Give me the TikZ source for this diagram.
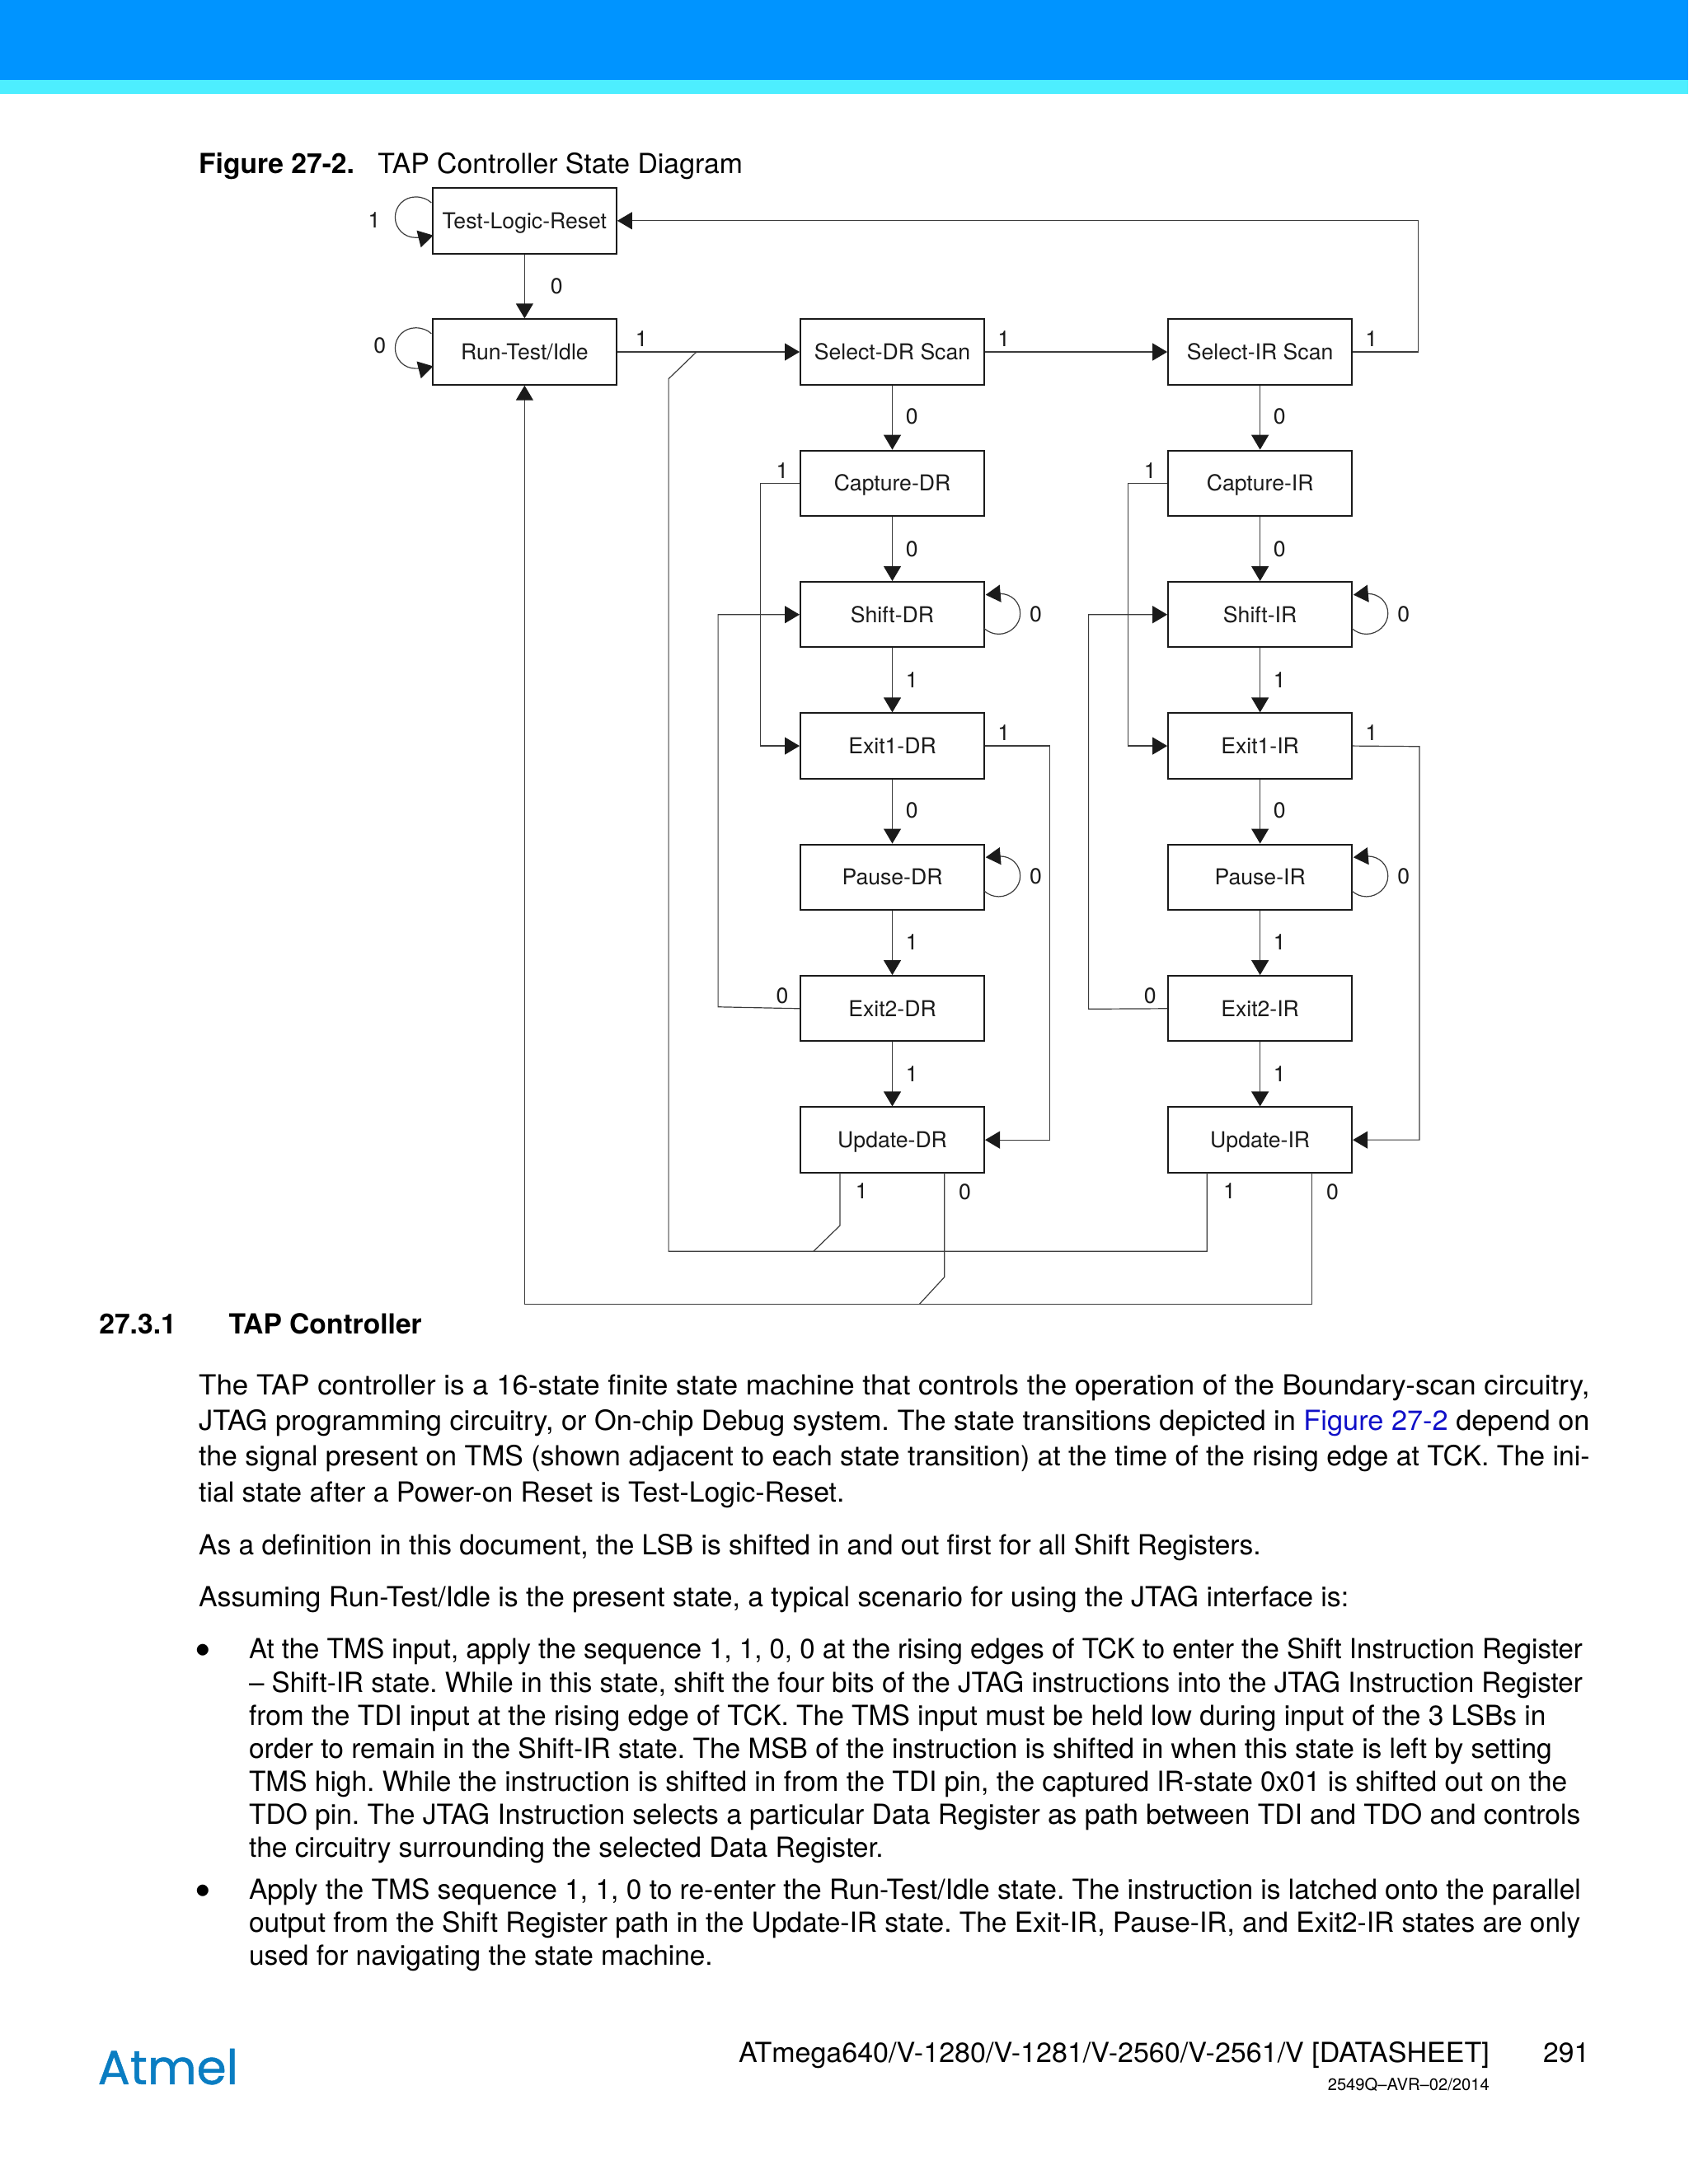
\documentclass[tikz,border=0pt]{standalone}
\usepackage{graphicx}
\usepackage{fontspec}
\setmainfont{TeX Gyre Heros}
\newfontfamily\logofont[FakeBold=0.9]{Poppins}
\usetikzlibrary{arrows.meta}
\definecolor{hdrblue}{HTML}{0094FF}
\definecolor{hdrcyan}{HTML}{4DEEFF}
\definecolor{linkblue}{HTML}{1010C8}
\definecolor{logoblue}{HTML}{0A7DC2}
\definecolor{ink}{HTML}{1A1A1A}
\setlength{\unitlength}{0.8449pt}
\newcommand{\fl}[4]{\node[bodyline] (#1) at #2 {\resizebox{#3\unitlength}{\height}{#4}};}
\tikzset{
  x=0.8449pt,y=-0.8449pt,
  state/.style={draw=ink,line width=1pt,minimum width=111.5pt,minimum height=39.7pt,inner sep=0pt,text height=9.6pt,text depth=0pt,font=\fontsize{13.3pt}{14pt}\selectfont,text=ink},
  conn/.style={draw=ink!85,line width=0.6pt},
  arr/.style={conn,-{Triangle[length=9pt,width=10.5pt,fill=ink,color=ink]}},
  lab/.style={inner sep=0pt,font=\fontsize{13.3pt}{14pt}\selectfont,text=ink},
  bodyline/.style={anchor=base west,inner sep=0pt,font=\fontsize{16.8pt}{20pt}\selectfont\frenchspacing,text=black},
  bulletmark/.style={anchor=base,inner sep=0pt,font=\fontsize{28pt}{30pt}\selectfont,text=black},
  headline/.style={bodyline,font=\fontsize{16.8pt}{20pt}\selectfont\bfseries},
}
\begin{document}
\begin{tikzpicture}
\useasboundingbox (0,0) rectangle (1212,1568.2);
\fill[hdrblue] (0,0) rectangle (1212,57.5);
\fill[hdrcyan] (0,57.5) rectangle (1212,67.6);
% caption
\node[bodyline] (figcap) at (142.5,124.6) {\textbf{Figure 27-2.}};
\fl{figtitle}{(271,124.6)}{262}{TAP Controller State Diagram}
% states
\node[state] (tlr) at (376.6,158.5) {Test-Logic-Reset};
\node[state] (rti) at (376.6,252.7) {Run-Test/Idle};
\node[state] (sdr) at (640.6,252.7) {Select-DR Scan};
\node[state] (sir) at (904.6,252.7) {Select-IR Scan};
\node[state] (cdr) at (640.6,347) {Capture-DR};
\node[state] (cir) at (904.6,347) {Capture-IR};
\node[state] (shd) at (640.6,441.3) {Shift-DR};
\node[state] (shi) at (904.6,441.3) {Shift-IR};
\node[state] (e1d) at (640.6,535.6) {Exit1-DR};
\node[state] (e1i) at (904.6,535.6) {Exit1-IR};
\node[state] (pd) at (640.6,629.8) {Pause-DR};
\node[state] (pir) at (904.6,629.8) {Pause-IR};
\node[state] (e2d) at (640.6,724.2) {Exit2-DR};
\node[state] (e2i) at (904.6,724.2) {Exit2-IR};
\node[state] (ud) at (640.6,818.5) {Update-DR};
\node[state] (ui) at (904.6,818.5) {Update-IR};
% straight connectors
\draw[arr] (tlr) -- (rti);
\draw[arr] (rti) -- (sdr);
\draw[arr] (sdr) -- (sir);
\foreach \a/\b in {sdr/cdr,cdr/shd,shd/e1d,e1d/pd,pd/e2d,e2d/ud,sir/cir,cir/shi,shi/e1i,e1i/pir,pir/e2i,e2i/ui}{\draw[arr] (\a) -- (\b);}
\draw[arr] (sir.east) -- (1018,252.7) -- (1018,158.5) -- (tlr.east);
% DR / IR side routes
\draw[arr] (cdr.west) -- (546,347) -- (546,535.6) -- (e1d.west);
\draw[arr] (cir.west) -- (810,347) -- (810,535.6) -- (e1i.west);
\draw[arr] (e2d.west) -- (515.5,723) -- (515.5,441.3) -- (shd.west);
\draw[arr] (e2i.west) -- (781.5,724.5) -- (781.5,441.3) -- (shi.west);
\draw[arr] (e1d.east) -- (753.5,535.6) -- (753.5,818.5) -- (ud.east);
\draw[arr] (e1i.east) -- (1019,536) -- (1019,818.5) -- (ui.east);
% long returns
\coordinate (ud1) at (603,842);
\coordinate (ud0) at (678,842);
\coordinate (ui1) at (866.5,842);
\coordinate (ui0) at (942,842);
\draw[conn] (ui1) -- (866.5,898.5) -- (480,898.5) -- (480,272) -- (500,252.7);
\draw[conn] (ud1) -- (603,880) -- (584,898.5);
\draw[arr] (ui0) -- (942,936.5) -- (376.6,936.5) -- (rti.south);
\draw[conn] (ud0) -- (678,917) -- (660,936.5);
% self loops
\foreach \yy in {0,94}{
\draw[arr] (309.7,145.6+\yy) .. controls (307,143+\yy) and (303,141.4+\yy) .. (298.4,141.4+\yy) .. controls (290,141.4+\yy) and (283.7,148+\yy) .. (283.7,156+\yy) .. controls (283.7,164+\yy) and (290,170.6+\yy) .. (298.4,170.6+\yy) .. controls (303,170.6+\yy) and (307,170+\yy) .. (311,169+\yy);}
\foreach \yy in {441.3,629.8}{
\foreach \xx in {0,264}{
\draw[arr] (706.6+\xx,\yy+10) .. controls (709.5+\xx,\yy+12.5) and (713+\xx,\yy+14) .. (717+\xx,\yy+14) .. controls (725+\xx,\yy+14) and (732.4+\xx,\yy+7.5) .. (732.4+\xx,\yy-.8) .. controls (732.4+\xx,\yy-9) and (726+\xx,\yy-15) .. (718+\xx,\yy-15) .. controls (714+\xx,\yy-15) and (711+\xx,\yy-14.5) .. (707.6+\xx,\yy-14.2);}}
% edge labels
\foreach \nn/\tt/\px/\py in {a/1/268.6/158,b/0/399.6/205.3,c/0/272.6/248,d/1/460.6/243,e/1/720.6/243,f/1/984.6/243,g/0/654.6/299.3,h/0/918.6/299.3,i/1/561.6/338,j/1/825.6/338,k/0/654.6/394.3,l/0/918.6/394.3,m/0/743.6/441,n/0/1007.6/441,o/1/654.6/488,p/1/918.6/488,q/1/720.6/526,r/1/984.6/526,s/0/654.6/582,t/0/918.6/582,u/0/743.6/629.3,v/0/1007.6/629.3,w/1/654.6/676.3,x/1/918.6/676.3,y/0/561.6/715,z/0/825.6/715,A/1/654.6/771,B/1/918.6/771,C/1/618.6/855,D/1/882.6/855,E/0/692.6/856,F/0/956.6/856}{
\node[lab] (l\nn) at (\px,\py) {\tt};}
% section heading
\node[headline] (secno) at (71,958) {27.3.1};
\node[headline] (sectitle) at (164,958) {TAP Controller};
% body
\fl{p1}{(142.5,1001.3)}{998.5}{The TAP controller is a 16-state finite state machine that controls the operation of the Boundary-scan circuitry,}
\fl{p2}{(142.5,1027)}{998.5}{JTAG programming circuitry, or On-chip Debug system. The state transitions depicted in \textcolor{linkblue}{Figure 27-2} depend on}
\fl{p3}{(142.5,1052.6)}{998.5}{the signal present on TMS (shown adjacent to each state transition) at the time of the rising edge at TCK. The ini-}
\fl{p4}{(142.5,1078.3)}{463.5}{tial state after a Power-on Reset is Test-Logic-Reset.}
\fl{p5}{(142.5,1116.3)}{762.5}{As a definition in this document, the LSB is shifted in and out first for all Shift Registers.}
\fl{p6}{(142.5,1153.8)}{825.5}{Assuming Run-Test/Idle is the present state, a typical scenario for using the JTAG interface is:}
\node[bulletmark] (b1) at (146,1196.3) {•};
\fl{q1}{(178.5,1191.2)}{957.3}{At the TMS input, apply the sequence 1, 1, 0, 0 at the rising edges of TCK to enter the Shift Instruction Register}
\fl{q2}{(178.5,1215)}{957.3}{– Shift-IR state. While in this state, shift the four bits of the JTAG instructions into the JTAG Instruction Register}
\fl{q3}{(178.5,1238.8)}{931.1}{from the TDI input at the rising edge of TCK. The TMS input must be held low during input of the 3 LSBs in}
\fl{q4}{(178.5,1262.6)}{935.4}{order to remain in the Shift-IR state. The MSB of the instruction is shifted in when this state is left by setting}
\fl{q5}{(178.5,1286.3)}{946.3}{TMS high. While the instruction is shifted in from the TDI pin, the captured IR-state 0x01 is shifted out on the}
\fl{q6}{(178.5,1310.1)}{955.8}{TDO pin. The JTAG Instruction selects a particular Data Register as path between TDI and TDO and controls}
\fl{q7}{(178.5,1333.8)}{455.5}{the circuitry surrounding the selected Data Register.}
\node[bulletmark] (b2) at (146,1368.9) {•};
\fl{r1}{(178.5,1363.8)}{956.1}{Apply the TMS sequence 1, 1, 0 to re-enter the Run-Test/Idle state. The instruction is latched onto the parallel}
\fl{r2}{(178.5,1387.6)}{955.8}{output from the Shift Register path in the Update-IR state. The Exit-IR, Pause-IR, and Exit2-IR states are only}
\fl{r3}{(178.5,1411.3)}{333}{used for navigating the state machine.}
% footer
\fl{foot}{(530,1480.8)}{539}{ATmega640/V-1280/V-1281/V-2560/V-2561/V [DATASHEET]}
\node[anchor=base east,inner sep=0pt,font=\fontsize{16.8pt}{20pt}\selectfont] (page) at (1141.3,1480.8) {291};
\node[anchor=base east,inner sep=0pt,font=\fontsize{10.1pt}{11pt}\selectfont] (rev) at (1069.5,1501) {2549Q–AVR–02/2014};
\node[anchor=base west,inner sep=0pt,font=\logofont\fontsize{29pt}{34pt}\selectfont,text=logoblue] (logo) at (70,1496.5) {Atmel};
\end{tikzpicture}
\end{document}
